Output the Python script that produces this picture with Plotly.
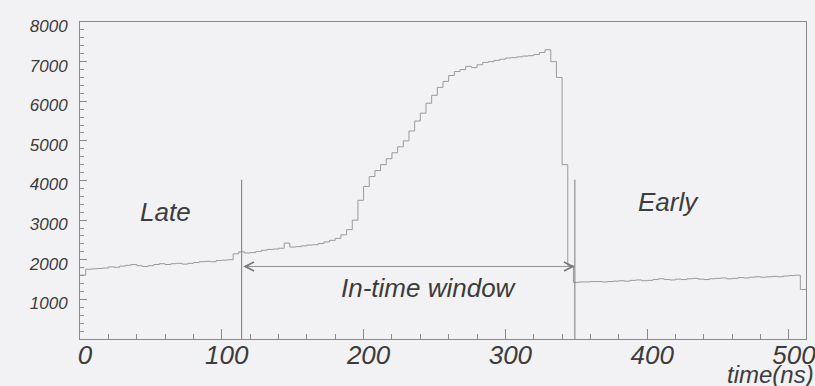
import plotly.graph_objects as go

# ---- data ----
bin_width = 4          # ns per histogram bin
x_max = 512            # ns
counts = [
    1610, 1760, 1770, 1780, 1790, 1820, 1810, 1840, 1860, 1880, 1850, 1830, 1850, 1880, 1900, 1880,
    1900, 1910, 1890, 1910, 1930, 1950, 1960, 1950, 1980, 1990, 2000, 2150, 2200, 2170, 2180, 2210,
    2240, 2260, 2270, 2290, 2420, 2320, 2330, 2350, 2370, 2380, 2410, 2450, 2490, 2540, 2630, 2760,
    3000, 3500, 3850, 4100, 4250, 4400, 4550, 4700, 4850, 5000, 5250, 5500, 5700, 5950, 6150, 6350,
    6500, 6650, 6750, 6800, 6880, 6850, 6920, 6980, 7000, 7030, 7060, 7090, 7100, 7120, 7140, 7150,
    7180, 7230, 7300, 7000, 6600, 4400, 1850, 1430, 1440, 1440, 1450, 1450, 1440, 1450, 1460, 1470,
    1460, 1480, 1490, 1470, 1480, 1500, 1520, 1500, 1490, 1510, 1500, 1520, 1530, 1510, 1500, 1520,
    1530, 1540, 1520, 1530, 1550, 1540, 1560, 1570, 1560, 1570, 1580, 1570, 1590, 1600, 1610, 1250,
]
x_ticks = [0, 100, 200, 300, 400, 500]
y_ticks = [1000, 2000, 3000, 4000, 5000, 6000, 7000, 8000]
window_start = 114     # ns
window_end = 349       # ns
window_line_top = 4020
arrow_level = 1830
labels = [("Late", 60, 3210), ("In-time window", 246, 1280), ("Early", 415, 3460)]
x_title = "time(ns)"

# ---- figure ----
edges = [i * bin_width for i in range(len(counts))] + [len(counts) * bin_width]
yvals = counts + [counts[-1]]

FONT = "Liberation Sans, Arial, sans-serif"
TXT = "#3c3c3c"
LINE = "#8a8a8a"
BG = "#f2f2f4"

fig = go.Figure()
fig.add_trace(go.Scatter(x=edges, y=yvals, mode="lines", line_shape="hv",
                         line=dict(color="#9a9a9a", width=1), hoverinfo="skip",
                         showlegend=False))

for xv in (window_start, window_end):
    fig.add_shape(type="line", x0=xv, x1=xv, y0=0, y1=window_line_top,
                  xref="x", yref="y", line=dict(color="#7a7a7a", width=1))

fig.add_annotation(x=window_end, y=arrow_level, ax=window_start, ay=arrow_level,
                   xref="x", yref="y", axref="x", ayref="y", text="",
                   showarrow=True, arrowside="end+start", arrowhead=5, startarrowhead=5,
                   arrowsize=2.2, startarrowsize=2.2, arrowwidth=0.8, arrowcolor="#7a7a7a")

for txt, xv, yv in labels:
    fig.add_annotation(x=xv, y=yv, xref="x", yref="y", text=txt, showarrow=False,
                       font=dict(family=FONT, size=26, color=TXT, style="italic"))

fig.add_annotation(x=1, y=0, xref="paper", yref="paper", text=x_title, showarrow=False,
                   xanchor="right", yanchor="top", xshift=10, yshift=-20,
                   font=dict(family=FONT, size=24, color=TXT, style="italic"))

fig.update_xaxes(range=[0, x_max], tickvals=x_ticks, ticks="inside", ticklen=10,
                 tickcolor=LINE, showline=True, linecolor=LINE, linewidth=1, mirror=True,
                 showgrid=False, zeroline=False, automargin=False,
                 minor=dict(dtick=20, ticks="inside", ticklen=5, tickcolor=LINE),
                 tickfont=dict(family=FONT, size=26, color=TXT, style="italic"),
                 ticklabelstandoff=-7, ticklabelshift=5, ticklabeloverflow="allow")
fig.update_yaxes(range=[0, 8000], tickvals=y_ticks, ticks="inside", ticklen=7,
                 tickcolor=LINE, showline=True, linecolor=LINE, linewidth=1, mirror=True,
                 showgrid=False, zeroline=False, automargin=False,
                 minor=dict(dtick=200, ticks="inside", ticklen=4, tickcolor=LINE),
                 tickfont=dict(family=FONT, size=17, color=TXT, style="italic"),
                 ticklabelstandoff=8, ticklabelshift=4)

fig.update_layout(width=815, height=386, margin=dict(l=80, r=9, t=22, b=47),
                  paper_bgcolor=BG, plot_bgcolor=BG, showlegend=False)

fig.write_html("out.html")
